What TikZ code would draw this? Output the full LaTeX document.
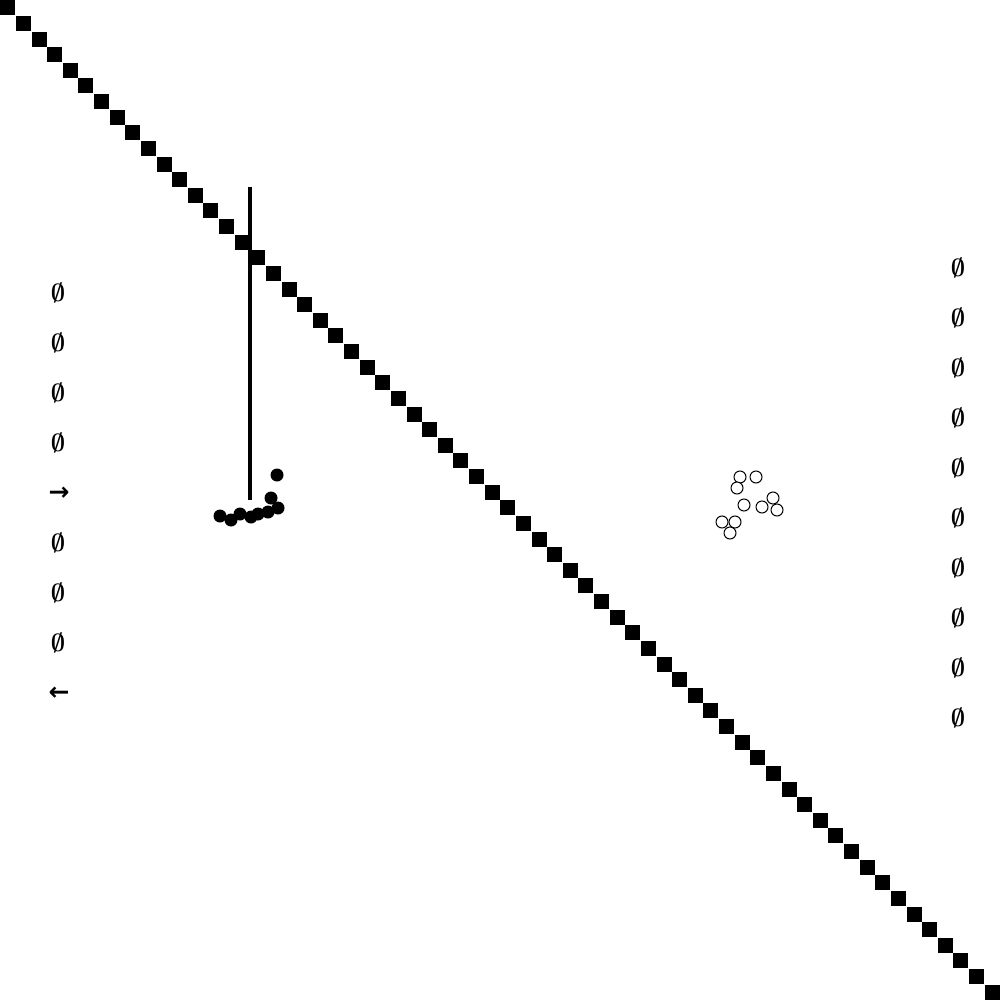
\documentclass[tikz,border=0pt]{standalone}
\usepackage{fontspec}
\newfontfamily\arrowfont{DejaVu Sans}[BoldFont={DejaVu Sans Bold}]
\begin{document}
\begin{tikzpicture}[x=1pt,y=-1pt,
  sq/.style={fill=black,draw=none,minimum size=15pt,inner sep=0pt,outer sep=0pt},
  bdot/.style={circle,fill=black,draw=none,minimum size=13pt,inner sep=0pt},
  wdot/.style={circle,fill=white,draw=black,line width=1pt,minimum size=12pt,inner sep=0pt},
  sym/.style={font=\fontsize{25}{25}\selectfont\boldmath,inner sep=0pt,anchor=center},
  arr/.style={font=\arrowfont\bfseries\fontsize{25}{25}\selectfont,inner sep=0pt,anchor=center}]
\useasboundingbox (0,0) rectangle (1000,1000);
\fill[white] (0,0) rectangle (1000,1000);
% diagonal squares
\foreach \i in {0,...,63} {
  \node[sq] (s\i) at ({\i*15.625+7.8},{\i*15.625+7.8}) {};
}
% vertical line
\coordinate (vtop) at (250,187);
\coordinate (vbot) at (250,500);
\draw[line width=4pt] (vtop) -- (vbot);
% black dots
\foreach \x/\y [count=\k] in {220/516,231/520,240/514,251/517,258/514,268/512,271/498,278/508,277/475} {
  \node[bdot] (b\k) at (\x,\y) {};
}
% white circles
\foreach \x/\y [count=\k] in {740/477,756/477,737/488,744/505,762/507,773/498,777/510,722/522,735/522,730/533} {
  \node[wdot] (w\k) at (\x,\y) {};
}
% left column
\foreach \y [count=\k] in {293,343,393,443} {
  \node[sym] (l\k) at (58,\y) {$\emptyset$};
}
\node[arr] (l5) at (59,494) {→};
\foreach \y [count=\k from 6] in {543,593,643} {
  \node[sym] (l\k) at (58,\y) {$\emptyset$};
}
\node[arr] (l9) at (59,694) {←};
% right column
\foreach \y [count=\k] in {268,318,368,418,468,518,568,618,668,718} {
  \node[sym] (r\k) at (958,\y) {$\emptyset$};
}
\end{tikzpicture}
\end{document}
